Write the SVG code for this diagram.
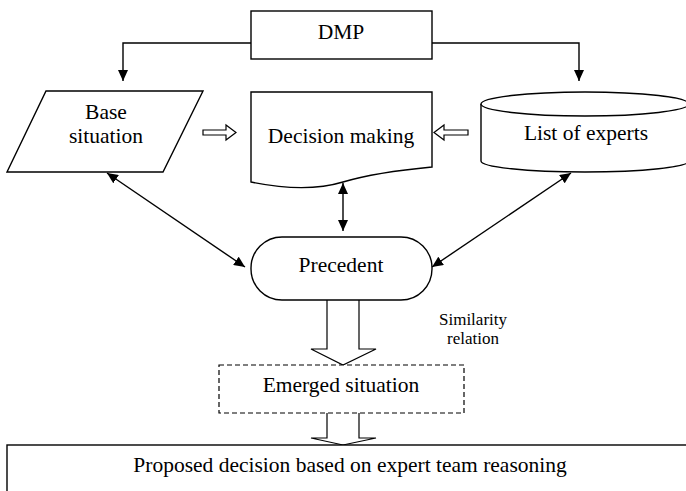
<svg xmlns="http://www.w3.org/2000/svg" width="686" height="491" viewBox="0 0 686 491">
  <style>
    .shape { fill: #fff; stroke: #000; stroke-width: 1.4; }
    .dash { fill: #fff; stroke: #000; stroke-width: 1.2; stroke-dasharray: 5 3; }
    .line { fill: none; stroke: #000; stroke-width: 1.4; }
    .hollow { fill: #fff; stroke: #000; stroke-width: 1.2; stroke-linejoin: miter; }
    text { font-family: "Liberation Serif", "Times New Roman", serif; font-size: 21.5px; fill: #000; text-anchor: middle; }
    .small { font-size: 17px; }
  </style>
  <defs>
    <marker id="arr" markerUnits="userSpaceOnUse" markerWidth="12" markerHeight="10" refX="11" refY="5" orient="auto-start-reverse">
      <path d="M0,0 L11,5 L0,10 Z" fill="#000"/>
    </marker>
  </defs>

  <g id="connectors">
    <path class="line" d="M251,43 H123 V81" marker-end="url(#arr)"/>
    <path class="line" d="M432,43 H579 V81" marker-end="url(#arr)"/>
    <line class="line" x1="343" y1="183" x2="343" y2="231" marker-start="url(#arr)" marker-end="url(#arr)"/>
    <line class="line" x1="107" y1="173" x2="245" y2="267" marker-start="url(#arr)" marker-end="url(#arr)"/>
    <line class="line" x1="571" y1="173" x2="432" y2="267" marker-start="url(#arr)" marker-end="url(#arr)"/>
    <!-- hollow block arrows -->
    <path class="hollow" d="M203,130 H226 V125 L236,132.5 L226,140 V135 H203 Z"/>
    <path class="hollow" d="M468,130 H444 V125 L434,132.5 L444,140 V135 H468 Z"/>
    <path class="hollow" d="M327,300 V349 H311 L343,365 L376,349 H359 V300"/>
    <path class="hollow" d="M327,413 V438 H311 L343,445 L376,438 H359 V413"/>
  </g>

  <g id="dmp">
    <rect class="shape" x="251" y="11" width="181" height="48"/>
    <text x="341" y="39">DMP</text>
  </g>

  <g id="base-situation">
    <polygon class="shape" points="46,91 203,91 163,172 7,172"/>
    <text x="106" y="119">Base</text>
    <text x="106" y="143">situation</text>
  </g>

  <g id="decision-making">
    <path class="shape" d="M251,92 H432 V167 C400,170 370,174 343,182 C320,189 290,190 251,182 Z"/>
    <text x="341" y="143">Decision making</text>
  </g>

  <g id="list-of-experts">
    <path class="shape" d="M481,104 V161 A104,11 0 0 0 689,161 V104"/>
    <ellipse class="shape" cx="585" cy="104" rx="104" ry="12"/>
    <text x="586" y="140">List of experts</text>
  </g>

  <g id="precedent">
    <rect class="shape" x="251" y="237" width="181" height="63" rx="31" ry="31"/>
    <text x="341" y="272">Precedent</text>
  </g>

  <g id="similarity-label">
    <text class="small" x="473" y="325">Similarity</text>
    <text class="small" x="473" y="344">relation</text>
  </g>

  <g id="emerged-situation">
    <rect class="dash" x="219" y="365" width="245" height="48"/>
    <text x="341" y="392">Emerged situation</text>
  </g>

  <g id="proposed-decision">
    <rect class="shape" x="7" y="445" width="700" height="60"/>
    <text x="350" y="472">Proposed decision based on expert team reasoning</text>
  </g>
</svg>
